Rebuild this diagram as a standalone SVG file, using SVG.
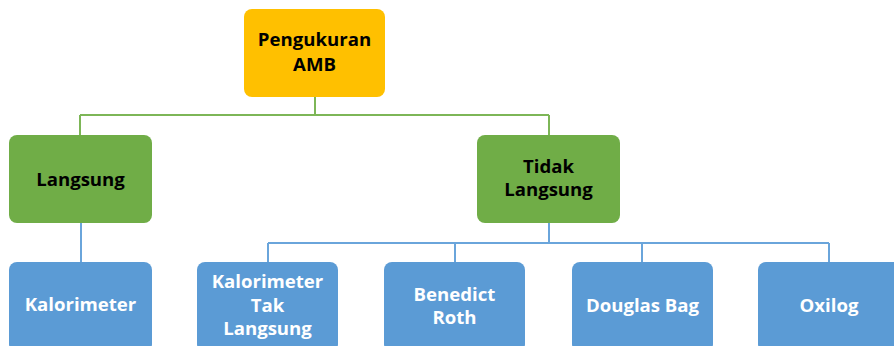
<svg xmlns="http://www.w3.org/2000/svg" width="894" height="346" viewBox="0 0 894 346">
  <style>
    .box { stroke: none; }
    .root { fill: #FFC000; }
    .mid { fill: #70AD47; }
    .leaf { fill: #5B9BD5; }
    .lbl { font-family: "Open Sans", "Noto Sans", sans-serif; font-weight: bold; font-size: 18.6px; text-anchor: middle; }
    .dark { fill: #000000; }
    .light { fill: #FFFFFF; }
    .gline { fill: none; stroke: #7DB657; stroke-width: 2; }
    .bline { fill: none; stroke: #6AA5DB; stroke-width: 2; }
  </style>
  <rect width="894" height="346" fill="#FFFFFF"/>

  <!-- connectors -->
  <g id="connectors">
    <path class="gline" d="M315 97 V115 M80 115 H549 M80 115 V135 M549 115 V135"/>
    <path class="bline" d="M81 223 V262"/>
    <path class="bline" d="M549 223 V243 M268 243 H829 M268 243 V262 M455 243 V262 M642 243 V262 M829 243 V262"/>
  </g>

  <g id="node-root">
    <rect class="box root" x="244" y="9" width="141" height="88" rx="8"/>
    <text class="lbl dark" x="314.5" y="46">Pengukuran</text>
    <text class="lbl dark" x="314.5" y="71">AMB</text>
  </g>

  <g id="node-langsung">
    <rect class="box mid" x="9" y="135" width="143" height="88" rx="8"/>
    <text class="lbl dark" x="80.5" y="186">Langsung</text>
  </g>

  <g id="node-tidak-langsung">
    <rect class="box mid" x="477" y="135" width="143" height="88" rx="8"/>
    <text class="lbl dark" x="548.5" y="173">Tidak</text>
    <text class="lbl dark" x="548.5" y="196">Langsung</text>
  </g>

  <g id="node-kalorimeter">
    <rect class="box leaf" x="9" y="262" width="143" height="90" rx="8"/>
    <text class="lbl light" x="80.5" y="311">Kalorimeter</text>
  </g>

  <g id="node-kalorimeter-tak-langsung">
    <rect class="box leaf" x="197" y="262" width="141" height="90" rx="8"/>
    <text class="lbl light" x="267.5" y="288">Kalorimeter</text>
    <text class="lbl light" x="267.5" y="312">Tak</text>
    <text class="lbl light" x="267.5" y="335">Langsung</text>
  </g>

  <g id="node-benedict-roth">
    <rect class="box leaf" x="384" y="262" width="141" height="90" rx="8"/>
    <text class="lbl light" x="454.5" y="301">Benedict</text>
    <text class="lbl light" x="454.5" y="324">Roth</text>
  </g>

  <g id="node-douglas-bag">
    <rect class="box leaf" x="572" y="262" width="141" height="90" rx="8"/>
    <text class="lbl light" x="642.5" y="312">Douglas Bag</text>
  </g>

  <g id="node-oxilog">
    <rect class="box leaf" x="758" y="262" width="143" height="90" rx="8"/>
    <text class="lbl light" x="829" y="312">Oxilog</text>
  </g>
</svg>
